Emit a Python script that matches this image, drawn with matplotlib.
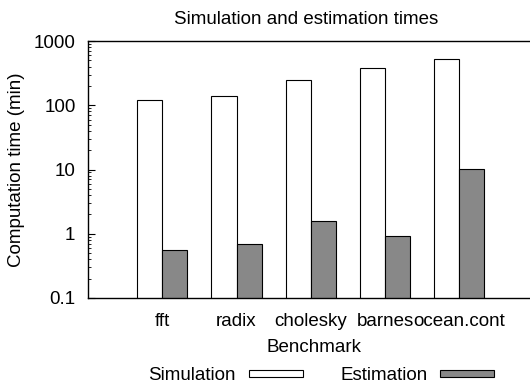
import matplotlib
matplotlib.use("Agg")
import matplotlib.pyplot as plt
import numpy as np
from matplotlib.patches import Rectangle

plt.rcParams['font.family'] = ['Liberation Sans', 'DejaVu Sans']
plt.rcParams['font.size'] = 13.5

benchmarks = ["fft", "radix", "cholesky", "barnes", "ocean.cont"]
simulation = [121, 138, 250, 376, 519]
estimation = [0.56, 0.69, 1.56, 0.91, 10.2]
series_names = ["Simulation", "Estimation"]
series_colors = ["white", "#888888"]

fig = plt.figure(figsize=(5.3, 3.85), dpi=100)
W, H = 530, 385
left, right, top, bottom = 88, 533.5, 41, 298
ax = fig.add_axes([left / W, (H - bottom) / H, (right - left) / W, (bottom - top) / H])

x = np.arange(1, len(benchmarks) + 1)
bw = 0.337
ax.bar(x - bw / 2, simulation, bw, color=series_colors[0], edgecolor="black", linewidth=0.8)
ax.bar(x + bw / 2, estimation, bw, color=series_colors[1], edgecolor="black", linewidth=0.8)

ax.set_yscale("log")
ax.set_ylim(0.1, 1000)
ax.set_xlim(0, 6)
ax.set_yticks([0.1, 1, 10, 100, 1000])
ax.set_yticklabels(["0.1", "1", "10", "100", "1000"])
ax.tick_params(axis="y", which="major", direction="in", length=5, width=0.8, labelsize=13.5, pad=9)
ax.tick_params(axis="y", which="minor", direction="in", length=2.5, width=0.6)
ax.set_xticks(x)
ax.set_xticklabels(benchmarks, fontsize=13.5)
ax.tick_params(axis="x", length=0, pad=11)
ax.spines["right"].set_visible(False)
for s in ["left", "bottom", "top"]:
    ax.spines[s].set_linewidth(1.0)

fig.text(306 / W, 1 - 20 / H, "Simulation and estimation times", ha="center", va="center", fontsize=13.5)
fig.text(314 / W, 1 - 347 / H, "Benchmark", ha="center", va="center", fontsize=13.5)
fig.text(17 / W, 1 - 170 / H, "Computation time (min)", ha="center", va="center", rotation=90, fontsize=13.5)

# legend drawn manually: label, then swatch
leg_text_right = [236, 428]
leg_box_left = [249, 440]
box_w, box_h = 54, 7
leg_y = 375
for name, col, tr, bl in zip(series_names, series_colors, leg_text_right, leg_box_left):
    fig.text(tr / W, 1 - leg_y / H, name, ha="right", va="center", fontsize=13.5)
    fig.add_artist(Rectangle((bl / W, 1 - (leg_y - 2 + box_h / 2) / H), box_w / W, box_h / H,
                             transform=fig.transFigure, facecolor=col, edgecolor="black", linewidth=0.8))

fig.savefig("out.png", dpi=100)
